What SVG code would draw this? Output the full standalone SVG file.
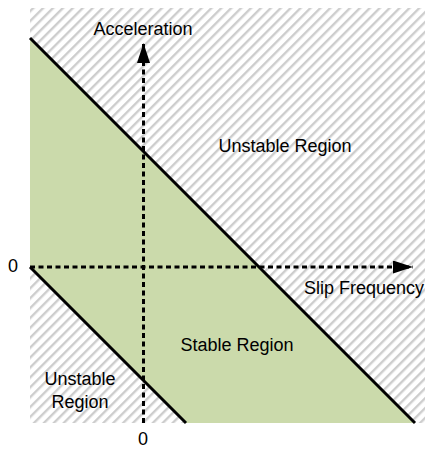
<svg xmlns="http://www.w3.org/2000/svg" width="425" height="449" viewBox="0 0 425 449">
  <style>
    .lbl { font-family: "Liberation Sans", Arial, sans-serif; font-size: 18px; fill: #000; text-anchor: middle; }
    .bound { stroke: #000; stroke-width: 3; fill: none; }
    .axis { stroke: #000; stroke-width: 3; stroke-dasharray: 5 3.5; fill: none; }
  </style>
  <defs>
    <pattern id="hatch" width="7" height="7" patternUnits="userSpaceOnUse" patternTransform="rotate(45)">
      <rect x="0" y="0" width="7" height="7" fill="#ffffff"/>
      <rect x="0" y="0" width="2.4" height="7" fill="#cdcdcd"/>
    </pattern>
    <marker id="arrow" markerWidth="20" markerHeight="13" refX="20" refY="6.5" orient="auto" markerUnits="userSpaceOnUse">
      <path d="M0,0 L20,6.5 L0,13 Z" fill="#000"/>
    </marker>
  </defs>

  <g id="unstable-region-area">
    <rect x="30" y="8" width="395" height="415" fill="url(#hatch)"/>
  </g>
  <g id="stable-region-area">
    <polygon points="30,38 415,423 186,423 30,267" fill="#CBDAAB"/>
  </g>

  <g id="boundaries">
    <line class="bound" x1="30" y1="38" x2="415" y2="423"/>
    <line class="bound" x1="30" y1="267" x2="186" y2="423"/>
  </g>

  <g id="connectors">
    <line class="axis" x1="30" y1="267" x2="413" y2="267" marker-end="url(#arrow)"/>
    <line class="axis" x1="143.5" y1="423" x2="143.5" y2="43" marker-end="url(#arrow)"/>
  </g>

  <g id="label-acceleration"><text class="lbl" x="143" y="35">Acceleration</text></g>
  <g id="label-unstable-upper"><text class="lbl" x="285" y="152">Unstable Region</text></g>
  <g id="label-slip"><text class="lbl" x="364" y="294">Slip Frequency</text></g>
  <g id="label-stable"><text class="lbl" x="237" y="351">Stable Region</text></g>
  <g id="label-unstable-lower">
    <text class="lbl" x="80" y="385">Unstable</text>
    <text class="lbl" x="80" y="408">Region</text>
  </g>
  <g id="label-zero-y"><text class="lbl" x="13" y="272">0</text></g>
  <g id="label-zero-x"><text class="lbl" x="143" y="445">0</text></g>
</svg>
